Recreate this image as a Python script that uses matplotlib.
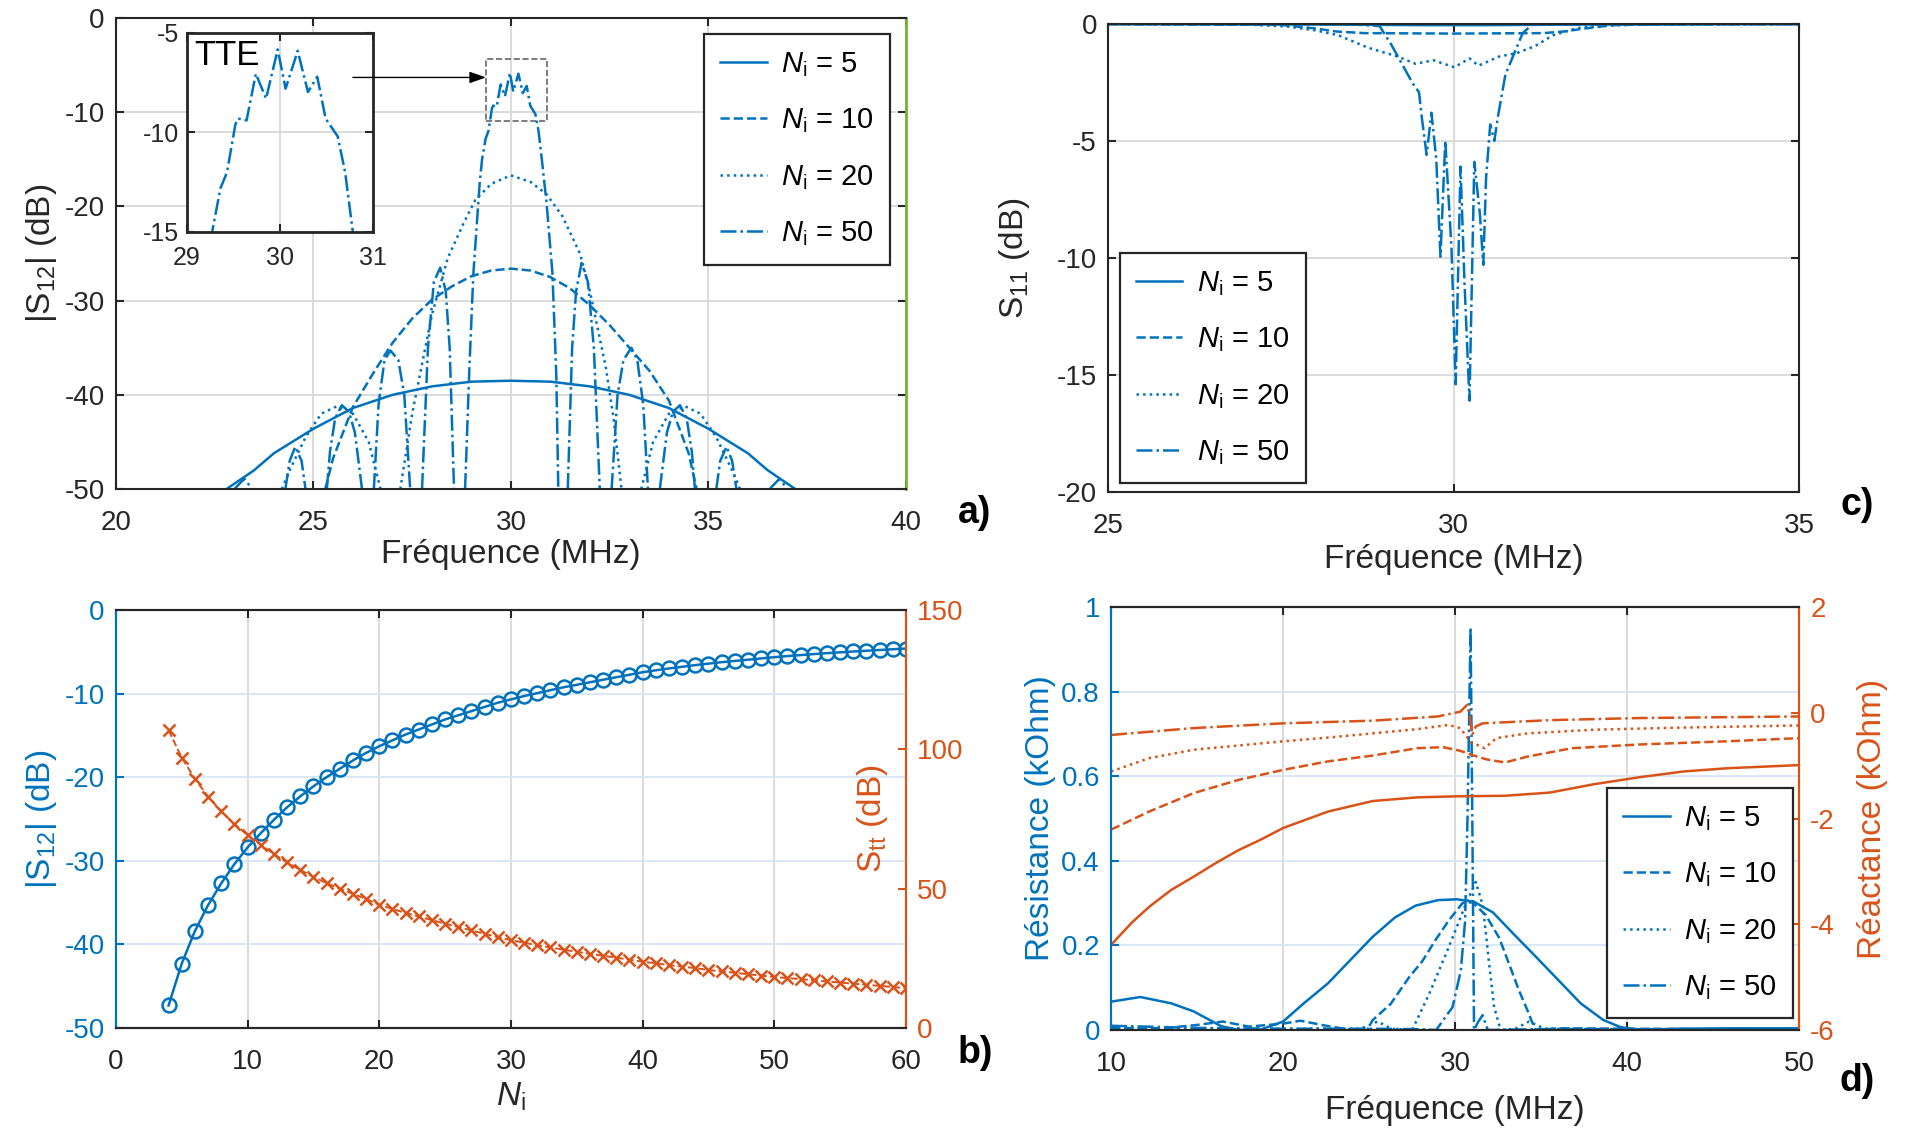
import numpy as np
import matplotlib
matplotlib.use('Agg')
import matplotlib.pyplot as plt
from matplotlib.patches import Rectangle

plt.rcParams['font.family'] = ['Liberation Sans', 'DejaVu Sans']
plt.rcParams['mathtext.fontset'] = 'custom'
plt.rcParams['mathtext.rm'] = 'Liberation Sans'
plt.rcParams['mathtext.it'] = 'Liberation Sans:italic'
plt.rcParams['mathtext.bf'] = 'Liberation Sans:bold'
plt.rcParams['axes.unicode_minus'] = False
plt.rcParams['axes.linewidth'] = 1.5
plt.rcParams['xtick.direction'] = 'in'
plt.rcParams['ytick.direction'] = 'in'
plt.rcParams['xtick.major.size'] = 6
plt.rcParams['ytick.major.size'] = 6
plt.rcParams['xtick.major.width'] = 1.5
plt.rcParams['ytick.major.width'] = 1.5

BLUE = '#0072BD'
ORANGE = '#D95319'
DARK = '#262626'
nan = np.nan

# ---------------- data ----------------
labels = ['$N_\\mathrm{i}$ = 5', '$N_\\mathrm{i}$ = 10', '$N_\\mathrm{i}$ = 20', '$N_\\mathrm{i}$ = 50']
styles = ['-', '--', ':', '-.']

# a) |S12| (dB) vs frequence
fa_5 = [22.8, 23.5, 24, 25, 26, 27, 28, 29, 30, 31, 32, 33, 34, 35, 36, 36.5, 37.2]
sa_5 = [-50, -48.0, -46.2, -43.6, -41.4, -40.0, -39.1, -38.6, -38.5, -38.6, -39.1, -40.0, -41.4, -43.6, -46.2, -48.0, -50]

fa_10 = [25.3, 25.5, 26, 26.5, 27, 27.5, 28, 28.5, 29, 29.5, 30, 30.5, 31, 31.5, 32, 32.5, 33, 33.5, 34, 34.5, 34.7]
sa_10 = [-50, -46.7, -41.3, -37.8, -34.5, -31.9, -29.9, -28.5, -27.4, -26.8, -26.6, -26.8, -27.5, -28.7, -30.5, -32.6, -35.0, -37.4, -40.6, -46.2, -50]

fa_20 = [24.2, 24.4, 24.8, 25.2, 25.6, 26.0, 26.4, 26.7, nan,
         27.2, 27.5, 28.0, 28.4, 28.8, 29.1, 29.5, 30, 30.5, 30.9, 31.3, 31.75, 32.0, 32.4, 32.6, 32.8, nan,
         33.3, 33.6, 34.0, 34.4, 34.8, 35.2, 35.6, 35.8]
sa_20 = [-50, -48, -44.5, -42.0, -41.2, -42.0, -45, -50, nan,
         -50, -42, -31.5, -25.5, -21.8, -19.3, -17.6, -16.7, -17.4, -18.7, -21.0, -25.0, -29.0, -37.0, -42.5, -50, nan,
         -50, -45, -42.0, -41.2, -42.0, -44.5, -48, -50]

fa_50 = [23.0, 23.25, 23.45, nan,
         24.29, 24.4, 24.54, 24.7, 24.8, nan,
         25.34, 25.42, 25.55, 25.72, 25.9, 26.05, 26.23, nan,
         26.53, 26.65, 26.8, 26.95, 27.15, 27.3, 27.45, nan,
         27.75, 27.9, 28.05, 28.21, 28.35, 28.45, 28.56, nan,
         28.84, 28.95, 29.05, 29.21, 29.27, 29.36, 29.43, 29.52, 29.55, 29.64, 29.74, 29.85, 29.975,
         30.06, 30.19, 30.30, 30.40, 30.49, 30.62, 30.70, 30.78, 30.9, 31.05, 31.15, 31.2, nan,
         31.44, 31.55, 31.65, 31.79, 31.95, 32.1, 32.25, nan,
         32.55, 32.7, 32.85, 33.05, 33.2, 33.35, 33.47, nan,
         33.77, 33.95, 34.1, 34.28, 34.45, 34.58, 34.66, nan,
         35.2, 35.3, 35.46, 35.6, 35.71, nan,
         36.55, 36.8, 37.0]
sa_50 = [-50, -48.9, -50, nan,
         -50, -47, -45.5, -47, -50, nan,
         -50, -46, -42.5, -41.1, -41.8, -44, -50, nan,
         -50, -41, -36.3, -35.3, -36.3, -40, -50, nan,
         -50, -35, -28, -26.5, -29, -35, -50, nan,
         -50, -37, -27.1, -17.5, -15.0, -12.8, -12.0, -9.6, -9.3, -9.4, -7.05, -8.3, -5.83,
         -7.8, -5.9, -7.97, -7.2, -9.3, -10.2, -12.0, -14.9, -19.5, -27, -38, -50, nan,
         -50, -35, -29, -26.0, -28, -35, -50, nan,
         -50, -40, -36.3, -35.0, -36.3, -41, -50, nan,
         -50, -44, -41.8, -41.1, -42.5, -46, -50, nan,
         -50, -47, -45.5, -47, -50, nan,
         -50, -48.9, -50]

zoom_box_x = (29.37, 30.91)
zoom_box_y = (-10.9, -4.35)
arrow_from = (26.0, -6.3)

# c) S11 (dB)
fc_5 = [25, 26, 27, 28, 28.5, 29, 29.5, 30, 30.5, 31, 31.5, 32, 33, 34, 35]
sc_5 = [-0.02, -0.02, -0.03, -0.03, -0.04, -0.05, -0.06, -0.06, -0.06, -0.05, -0.04, -0.03, -0.03, -0.02, -0.02]
fc_10 = [25, 27.5, 28.0, 28.3, 28.7, 30, 31.3, 31.6, 31.9, 32.3, 33, 35]
sc_10 = [-0.01, -0.05, -0.2, -0.33, -0.4, -0.42, -0.4, -0.33, -0.2, -0.06, -0.02, -0.01]
fc_20 = [25, 27, 27.6, 28.0, 28.33, 28.76, 29.19, 29.45, 29.71, 30.01, 30.23, 30.36, 30.66, 30.92, 31.18, 31.44, 31.8, 32.1, 32.7, 35]
sc_20 = [-0.01, -0.03, -0.12, -0.28, -0.49, -1.02, -1.4, -1.71, -1.56, -1.86, -1.48, -1.79, -1.4, -1.25, -0.95, -0.49, -0.18, -0.1, -0.03, -0.01]
fc_50 = [25, 28.5, 28.93, 29.1, 29.28, 29.41, 29.5, 29.54, 29.61, 29.68, 29.75, 29.81, 29.88, 29.97, 30.03,
         30.1, 30.16, 30.23, 30.3, 30.38, 30.43, 30.47, 30.53, 30.59, 30.64, 30.75, 30.88, 31.0, 31.14, 35]
sc_50 = [-0.01, -0.02, -0.1, -0.9, -1.86, -2.55, -2.93, -4.0, -5.6, -3.8, -5.8, -9.95, -5.0, -9.6, -15.4,
         -6.1, -11.2, -16.1, -5.9, -8.1, -10.3, -6.6, -4.3, -5.0, -4.0, -2.17, -1.25, -0.4, -0.03, -0.01]

# b) |S12| and Stt vs Ni
n_i = list(range(4, 61))
s12_n = [-47.3, -42.3, -38.4, -35.3, -32.7, -30.4, -28.4, -26.7, -25.1, -23.6, -22.3, -21.1, -20.0, -19.0,
         -18.0, -17.1, -16.3, -15.6, -14.9, -14.3, -13.7, -13.1, -12.6, -12.1, -11.6, -11.1, -10.7, -10.3,
         -9.95, -9.6, -9.25, -8.95, -8.65, -8.35, -8.05, -7.75, -7.45, -7.22, -7.0, -6.8, -6.6, -6.42,
         -6.25, -6.1, -5.95, -5.8, -5.65, -5.52, -5.4, -5.28, -5.17, -5.07, -4.97, -4.88, -4.79, -4.7, -4.62]
stt_n = [106.8, 97.0, 89.4, 83.0, 77.7, 73.2, 69.2, 65.7, 62.4, 59.4, 56.7, 54.2, 52.0, 50.0, 48.1, 46.3,
         44.2, 42.7, 41.3, 40.0, 38.7, 37.4, 36.2, 35.0, 33.8, 32.6, 31.5, 30.6, 29.7, 28.9, 28.1, 27.3,
         26.6, 25.9, 25.2, 24.5, 23.8, 23.2, 22.6, 22.0, 21.5, 20.8, 20.3, 19.8, 19.3, 18.8, 18.3, 17.9,
         17.5, 17.1, 16.7, 16.3, 15.9, 15.5, 15.1, 14.7, 14.3]

# d) resistance (kOhm)
fd_r5 = [10, 11.7, 13.5, 14.8, 16.4, 17.4, 18.7, 20, 21.2, 22.6, 23.9, 25.2, 26.5, 27.7, 29.0, 30.1, 31.1,
         32.2, 33.4, 34.7, 36.0, 37.3, 38.6, 39.6, 40.7, 43, 46, 50]
rd_5 = [0.067, 0.078, 0.063, 0.044, 0.009, 0.0, 0.001, 0.02, 0.063, 0.11, 0.165, 0.22, 0.266, 0.294, 0.307,
        0.309, 0.303, 0.278, 0.227, 0.173, 0.118, 0.063, 0.024, 0.007, 0.0, 0.003, 0.004, 0.004]
fd_r10 = [10, 13, 15, 16.5, 18, 20, 21, 22.5, 24, 24.9, 25.2, 26.26, 27.33, 28.1, 28.88, 29.65, 30.43, 31.0,
          31.78, 32.56, 33.14, 33.72, 34.2, 34.5, 34.7, 36, 40, 45, 50]
rd_10 = [0.005, 0.004, 0.012, 0.02, 0.008, 0.015, 0.022, 0.01, 0.0, 0.0, 0.023, 0.062, 0.125, 0.163, 0.214,
         0.26, 0.3, 0.302, 0.272, 0.218, 0.156, 0.093, 0.047, 0.016, 0.0, 0.004, 0.003, 0.002, 0.002]
fd_r20 = [10, 20, 24.5, 25.5, 26.3, 27.5, 28.5, 29.46, 30.23, 30.6, 31.2, 31.6, 31.78, 31.98, 32.27, 32.56,
          32.8, 33.5, 34.3, 35.2, 40, 50]
rd_20 = [0.003, 0.003, 0.003, 0.02, 0.003, 0.0, 0.086, 0.179, 0.257, 0.296, 0.35, 0.296, 0.233, 0.156, 0.054,
         0.012, 0.0, 0.003, 0.02, 0.003, 0.002, 0.002]
fd_r50 = [10, 15, 20, 25, 28, 28.9, 29.85, 30.33, 30.58, 30.72, 30.9, 31.0, 31.1, 31.35, 31.6, 31.9, 35, 40,
          45, 50]
rd_50 = [0.01, 0.005, 0.003, 0.003, 0.002, 0.0, 0.054, 0.14, 0.257, 0.5, 0.952, 0.5, 0.0, 0.02, 0.035, 0.0,
         0.002, 0.002, 0.002, 0.002]

# d) reactance (kOhm)
fd_x5 = [10, 11.2, 12.25, 13.5, 14.8, 16.1, 17.4, 18.7, 20.0, 22.6, 25.2, 27.8, 30.1, 32.9, 35.5, 38.1, 40.7,
         43.3, 45.8, 50]
xd_5 = [-4.39, -3.97, -3.66, -3.35, -3.1, -2.84, -2.6, -2.4, -2.18, -1.87, -1.67, -1.6, -1.58, -1.57, -1.51,
        -1.35, -1.22, -1.11, -1.05, -0.99]
fd_x10 = [10, 12.2, 14.8, 17.4, 20, 22.6, 25.2, 27.8, 29.3, 30.3, 31.0, 31.8, 32.9, 34.2, 36.8, 40.7, 45.8, 50]
xd_10 = [-2.21, -1.87, -1.52, -1.27, -1.08, -0.92, -0.81, -0.67, -0.65, -0.72, -0.8, -0.88, -0.94, -0.83,
         -0.67, -0.6, -0.54, -0.48]
fd_x20 = [10, 12.2, 14.8, 17.4, 20, 22.6, 25.2, 27.8, 29.6, 30.3, 30.9, 31.7, 32.4, 34.2, 38.1, 43.3, 50]
xd_20 = [-1.11, -0.86, -0.70, -0.62, -0.54, -0.47, -0.39, -0.31, -0.23, -0.29, -0.55, -0.67, -0.48, -0.39,
         -0.32, -0.28, -0.24]
fd_x50 = [10, 12.2, 14.8, 20, 25.2, 29, 30.3, 30.7, 30.85, 31.0, 31.2, 31.6, 35.5, 40.7, 50]
xd_50 = [-0.42, -0.36, -0.29, -0.2, -0.15, -0.07, 0.02, 0.15, -0.05, -0.42, -0.26, -0.2, -0.14, -0.1, -0.07]

# ---------------- figure ----------------
TICK = 20
LABEL = 24
LEG = 21
LW = 1.8
XPAD = 15
GRID = '#d9d9d9'
GRID_B = '#d6e6f3'

fig = plt.figure(figsize=(19.16, 11.31), dpi=100)


def style_box(ax):
    for s in ax.spines.values():
        s.set_color(DARK)
    ax.tick_params(labelsize=TICK, colors=DARK, top=True, right=True, pad=8)
    ax.tick_params(axis='x', pad=XPAD)
    ax.grid(True, color=GRID, lw=1.3)
    ax.set_axisbelow(True)


def make_legend(ax, handles, **kw):
    leg = ax.legend(handles, labels, fontsize=LEG, frameon=True, fancybox=False, framealpha=1,
                    edgecolor=DARK, handlelength=1.6, handletextpad=0.5, labelspacing=0.95,
                    borderpad=0.55, borderaxespad=0, **kw)
    leg.get_frame().set_linewidth(1.6)
    return leg


# a)
ax_a = fig.add_axes([0.0605, 0.5676, 0.4123, 0.4164])
style_box(ax_a)
lines_a = []
for f, s, ls in zip([fa_5, fa_10, fa_20, fa_50], [sa_5, sa_10, sa_20, sa_50], styles):
    l, = ax_a.plot(f, s, ls, color=BLUE, lw=LW)
    lines_a.append(l)
ax_a.set_xlim(20, 40)
ax_a.set_ylim(-50, 0)
ax_a.set_xticks([20, 25, 30, 35, 40])
ax_a.set_yticks([-50, -40, -30, -20, -10, 0])
ax_a.spines['right'].set_color('#77B32F')
ax_a.spines['right'].set_linewidth(2)
ax_a.set_xlabel('Fréquence (MHz)', fontsize=LABEL, color=DARK, labelpad=2)
ax_a.set_ylabel('|S$_{12}$| (dB)', fontsize=LABEL, color=DARK, labelpad=4)
ax_a.add_patch(Rectangle((zoom_box_x[0], zoom_box_y[0]), zoom_box_x[1] - zoom_box_x[0],
                         zoom_box_y[1] - zoom_box_y[0], fill=False, ls='--', lw=1.2, ec='#666666'))
make_legend(ax_a, lines_a, loc='upper right', bbox_to_anchor=(0.98, 0.966))

# inset
ax_in = fig.add_axes([0.0976, 0.7949, 0.0971, 0.176])
for s in ax_in.spines.values():
    s.set_color(DARK)
    s.set_linewidth(2)
ax_in.plot(fa_50, sa_50, '-.', color=BLUE, lw=LW)
ax_in.set_xlim(29, 31)
ax_in.set_ylim(-15, -5)
ax_in.set_xticks([29, 30, 31])
ax_in.set_yticks([-15, -10, -5])
ax_in.tick_params(labelsize=18, colors=DARK, top=True, right=True, pad=6)
ax_in.tick_params(axis='x', pad=10)
ax_in.grid(True, color=GRID, lw=1.3)
ax_in.set_axisbelow(True)
ax_in.text(0.04, 0.97, 'TTE', transform=ax_in.transAxes, fontsize=25, va='top', ha='left')
ax_in.annotate('', xy=(zoom_box_x[0], arrow_from[1]), xycoords=ax_a.transData,
               xytext=arrow_from, textcoords=ax_a.transData, annotation_clip=False,
               arrowprops=dict(arrowstyle='-|>,head_length=1.0,head_width=0.35', color='black',
                               lw=1.0, shrinkA=0, shrinkB=0))

# c)
ax_c = fig.add_axes([0.5783, 0.565, 0.3607, 0.414])
style_box(ax_c)
lines_c = []
for f, s, ls in zip([fc_5, fc_10, fc_20, fc_50], [sc_5, sc_10, sc_20, sc_50], styles):
    l, = ax_c.plot(f, s, ls, color=BLUE, lw=LW)
    lines_c.append(l)
ax_c.set_xlim(25, 35)
ax_c.set_ylim(-20, 0)
ax_c.set_xticks([25, 30, 35])
ax_c.set_yticks([-20, -15, -10, -5, 0])
ax_c.set_xlabel('Fréquence (MHz)', fontsize=LABEL, color=DARK, labelpad=4)
ax_c.set_ylabel('S$_{11}$ (dB)', fontsize=LABEL, color=DARK, labelpad=18)
make_legend(ax_c, lines_c, loc='lower left', bbox_to_anchor=(0.017, 0.019))


def style_twin(ax, ax2):
    for a in (ax, ax2):
        a.spines['left'].set_color(BLUE)
        a.spines['right'].set_color(ORANGE)
        a.spines['top'].set_color(DARK)
        a.spines['bottom'].set_color(DARK)
    ax.tick_params(axis='x', labelsize=TICK, colors=DARK, top=True, pad=XPAD)
    ax.tick_params(axis='y', labelsize=TICK, colors=BLUE, pad=8)
    ax2.tick_params(axis='y', labelsize=TICK, colors=ORANGE, pad=8)
    ax.grid(True, axis='x', color=GRID, lw=1.3)
    ax.grid(True, axis='y', color=GRID_B, lw=1.3)
    ax.set_axisbelow(True)


# b)
ax_b = fig.add_axes([0.0605, 0.0911, 0.4123, 0.3696])
ax_b2 = ax_b.twinx()
style_twin(ax_b, ax_b2)
ax_b.plot(n_i, s12_n, '-o', color=BLUE, lw=LW, ms=10, mfc='none', mew=1.8)
ax_b2.plot(n_i, stt_n, '--x', color=ORANGE, lw=1.4, ms=9, mew=1.8)
ax_b.set_xlim(0, 60)
ax_b.set_ylim(-50, 0)
ax_b2.set_ylim(0, 150)
ax_b.set_xticks([0, 10, 20, 30, 40, 50, 60])
ax_b.set_yticks([-50, -40, -30, -20, -10, 0])
ax_b2.set_yticks([0, 50, 100, 150])
ax_b.set_xlabel('$N_\\mathrm{i}$', fontsize=LABEL, color=DARK, labelpad=4)
ax_b.set_ylabel('|S$_{12}$| (dB)', fontsize=LABEL, color=BLUE, labelpad=4)
ax_b2.set_ylabel('S$_{\\mathrm{tt}}$ (dB)', fontsize=LABEL, color=ORANGE, rotation=90)
ax_b2.yaxis.set_label_coords(0.935, 0.5)

# d)
ax_d = fig.add_axes([0.5799, 0.0893, 0.3591, 0.374])
ax_d2 = ax_d.twinx()
style_twin(ax_d, ax_d2)
lines_d = []
for f, r, ls in zip([fd_r5, fd_r10, fd_r20, fd_r50], [rd_5, rd_10, rd_20, rd_50], styles):
    l, = ax_d.plot(f, r, ls, color=BLUE, lw=LW)
    lines_d.append(l)
for f, x, ls in zip([fd_x5, fd_x10, fd_x20, fd_x50], [xd_5, xd_10, xd_20, xd_50], styles):
    ax_d2.plot(f, x, ls, color=ORANGE, lw=LW)
ax_d.set_xlim(10, 50)
ax_d.set_ylim(0, 1)
ax_d2.set_ylim(-6, 2)
ax_d.set_xticks([10, 20, 30, 40, 50])
ax_d.set_yticks([0, 0.2, 0.4, 0.6, 0.8, 1], ['0', '0.2', '0.4', '0.6', '0.8', '1'])
ax_d2.set_yticks([-6, -4, -2, 0, 2])
ax_d.set_xlabel('Fréquence (MHz)', fontsize=LABEL, color=DARK, labelpad=13)
ax_d.set_ylabel('Résistance (kOhm)', fontsize=LABEL, color=BLUE, labelpad=4)
ax_d2.set_ylabel('Réactance (kOhm)', fontsize=LABEL, color=ORANGE, rotation=90, labelpad=16)
make_legend(ax_d2, lines_d, loc='lower right', bbox_to_anchor=(0.991, 0.028))

# panel letters
for txt, x, y in [('a)', 975, 513), ('b)', 975, 1053), ('c)', 1857, 505), ('d)', 1857, 1081)]:
    fig.text(x / 1916, 1 - y / 1131, txt, fontsize=27, weight='bold', ha='center', va='center')

fig.savefig('out.png', dpi=100)
